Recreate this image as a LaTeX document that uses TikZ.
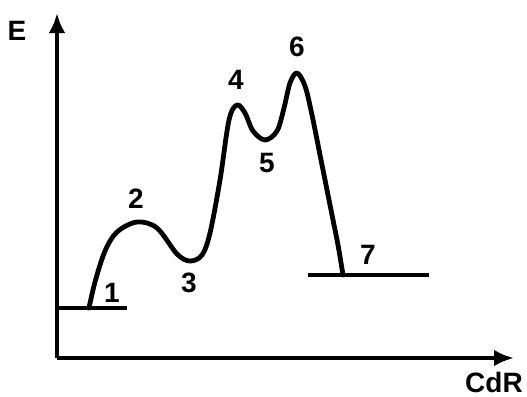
\documentclass[tikz,border=0pt]{standalone}
\usepackage{fontspec}
\setmainfont{Liberation Sans}
\usetikzlibrary{arrows.meta}

\begin{document}
\begin{tikzpicture}[x=0.75pt,y=-0.75pt,>={Latex[length=15pt,width=12.5pt]}]
  \tikzset{
    lbl/.style={inner sep=0pt,font=\fontsize{21}{24}\selectfont\bfseries},
    axis/.style={draw=black,line width=3pt},
    level/.style={draw=black,line width=2.4pt},
    curve/.style={draw=black,line width=3.6pt,line join=round,line cap=round},
  }
  \useasboundingbox (0,0) rectangle (527,396);
  \coordinate (O) at (57,358); \coordinate (ytip) at (57,13);
  \coordinate (xtip) at (514,358);
  \coordinate (a1) at (57,308); \coordinate (b1) at (127,308);
  \coordinate (a7) at (308,275); \coordinate (b7) at (429,275);

  \draw[axis,->] (O)--(ytip);
  \draw[axis,->] (O)--(xtip);
  \draw[level] (a1)--(b1);
  \draw[level] (a7)--(b7);

  \draw[curve] plot[smooth,tension=0.55] coordinates {
    (89,308) (95,282) (105,251) (117,232) (137,222) (157,228) (177,254)
    (190,261) (202,255) (210,233) (220,180) (229,120) (237,105) (245,113)
    (253,131) (265,140) (277,131) (284,108) (290,83) (297,73) (305,86)
    (312,115) (322,165) (332,215) (338,245) (343,275)};

  \node[lbl] (e) at (17,31) {E};
  \node[lbl] (cdr) at (494,382) {CdR};
  \node[lbl] (n1) at (112,293) {1}; \node[lbl] (n2) at (136,199) {2};
  \node[lbl] (n3) at (189,283) {3}; \node[lbl] (n4) at (236,80) {4};
  \node[lbl] (n5) at (267,163) {5}; \node[lbl] (n6) at (297,47) {6};
  \node[lbl] (n7) at (368,255) {7};
\end{tikzpicture}
\end{document}
